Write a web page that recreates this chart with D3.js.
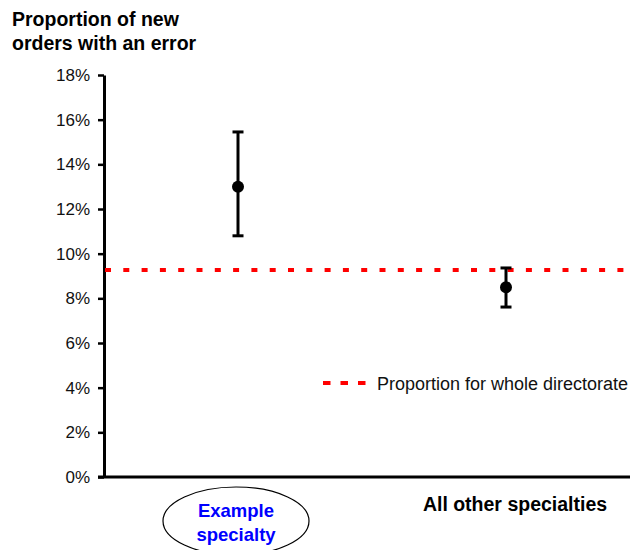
<!DOCTYPE html>
<html lang="en">
<head>
    <meta charset="UTF-8">
    <script src="https://d3js.org/d3.v7.min.js"></script>
    <title>Proportion of new orders with an error</title>
    <style>
        body { margin: 0; background: #fff; }
        text { font-family: "Liberation Sans", Arial, Helvetica, sans-serif; }
    </style>
</head>
<body>
    <div id="chart"></div>
    <script>
// data
const categories = ["Example specialty", "All other specialties"];
const rates = [0.130, 0.085];
const lower = [0.108, 0.0761];
const upper = [0.1545, 0.0936];
const directorateRate = 0.0927;
const yTicks = [0, 0.02, 0.04, 0.06, 0.08, 0.10, 0.12, 0.14, 0.16, 0.18];

const W = 630, H = 550;
const margin = { left: 104, right: 640, top: 75, bottom: 477 };

const svg = d3.select("#chart").append("svg")
    .attr("width", W)
    .attr("height", H);

const x = d3.scaleBand()
    .domain(categories)
    .range([margin.left, margin.right]);

const y = d3.scaleLinear()
    .domain([0, 0.18])
    .range([margin.bottom, margin.top]);

// title
const title = svg.append("text")
    .attr("x", 12)
    .attr("font-size", "19.5px")
    .attr("font-weight", "bold")
    .attr("fill", "#000");
title.append("tspan").attr("x", 12).attr("y", 26).text("Proportion of new");
title.append("tspan").attr("x", 12).attr("y", 50).text("orders with an error");

// y axis
const yAxis = svg.append("g")
    .attr("transform", `translate(${margin.left},0)`)
    .call(d3.axisLeft(y).tickValues(yTicks).tickFormat(d3.format(".0%")).tickSize(6).tickSizeOuter(0).tickPadding(8));
yAxis.select(".domain").attr("stroke-width", 3);
yAxis.selectAll(".tick line").attr("stroke-width", 2.5);
yAxis.selectAll(".tick text")
    .attr("font-size", "17px")
    .attr("font-family", "'Liberation Sans', Arial, sans-serif")
    .attr("fill", "#111");

// x axis line (no ticks)
svg.append("line")
    .attr("x1", margin.left - 6).attr("x2", W)
    .attr("y1", y(0)).attr("y2", y(0))
    .attr("stroke", "#000")
    .attr("stroke-width", 3);

// whole directorate reference line
svg.append("line")
    .attr("x1", margin.left + 1).attr("x2", W)
    .attr("y1", y(directorateRate)).attr("y2", y(directorateRate))
    .attr("stroke", "#ff0000")
    .attr("stroke-width", 4)
    .attr("stroke-dasharray", "6 12.3");

// error bars + points
const cx = d => x(d) + x.bandwidth() / 2;
const pts = svg.append("g").selectAll("g")
    .data(categories)
    .enter().append("g");

pts.append("line")
    .attr("x1", cx).attr("x2", cx)
    .attr("y1", (d, i) => y(lower[i]))
    .attr("y2", (d, i) => y(upper[i]))
    .attr("stroke", "#000")
    .attr("stroke-width", 3);

[lower, upper].forEach(arr => {
    pts.append("line")
        .attr("x1", d => cx(d) - 5.5).attr("x2", d => cx(d) + 5.5)
        .attr("y1", (d, i) => y(arr[i]))
        .attr("y2", (d, i) => y(arr[i]))
        .attr("stroke", "#000")
        .attr("stroke-width", 3);
});

pts.append("circle")
    .attr("cx", cx)
    .attr("cy", (d, i) => y(rates[i]))
    .attr("r", 6)
    .attr("fill", "#000");

// category labels
const exX = cx(categories[0]) - 2;
svg.append("ellipse")
    .attr("cx", exX).attr("cy", 521)
    .attr("rx", 73).attr("ry", 34)
    .attr("fill", "none")
    .attr("stroke", "#000")
    .attr("stroke-width", 1.2);

const exLabel = svg.append("text")
    .attr("text-anchor", "middle")
    .attr("font-size", "18.5px")
    .attr("font-weight", "bold")
    .attr("fill", "#0000ff");
exLabel.append("tspan").attr("x", exX).attr("y", 517).text("Example");
exLabel.append("tspan").attr("x", exX).attr("y", 541).text("specialty");

svg.append("text")
    .attr("x", cx(categories[1]) + 9)
    .attr("y", 511)
    .attr("text-anchor", "middle")
    .attr("font-size", "19.5px")
    .attr("font-weight", "bold")
    .attr("fill", "#000")
    .text(categories[1]);

// legend
const lg = svg.append("g").attr("transform", "translate(323,383)");
lg.append("line")
    .attr("x1", 0).attr("x2", 43)
    .attr("stroke", "#ff0000")
    .attr("stroke-width", 4)
    .attr("stroke-dasharray", "7.5 10");
lg.append("text")
    .attr("x", 54)
    .attr("y", 7)
    .attr("font-size", "18px")
    .attr("fill", "#111")
    .text("Proportion for whole directorate");
    </script>
</body>
</html>
